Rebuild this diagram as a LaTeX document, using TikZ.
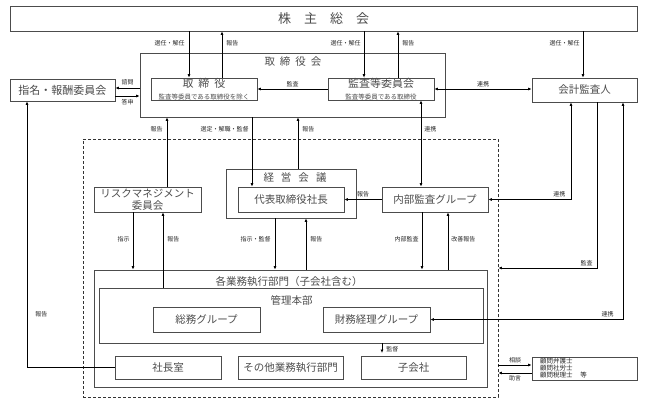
\documentclass[tikz,border=0pt]{standalone}
\usepackage{fontspec}
\newfontfamily\jp{Noto Sans CJK JP}
\usetikzlibrary{arrows.meta}

\begin{document}
\begin{tikzpicture}[x=1pt,y=-1pt,font=\jp,
  box/.style={draw=black!70,line width=0.7pt,inner sep=0pt,text=black!70,font=\jp\fontsize{10.5}{12}\selectfont,align=center},
  ttl/.style={inner sep=0pt,text=black!70,font=\jp\fontsize{10.5}{12}\selectfont},
  lbl/.style={inner sep=0pt,text=black!85,font=\jp\fontsize{6}{6.5}\selectfont},
  arr/.style={-{Latex[length=3.5pt,width=3pt]},line width=0.8pt},
  darr/.style={{Latex[length=3.5pt,width=3pt]}-{Latex[length=3.5pt,width=3pt]},line width=0.8pt}]
\useasboundingbox (0,0) rectangle (649,402);

% shareholders, board
\node[box,minimum width=627,minimum height=25,font=\jp\fontsize{13}{14}\selectfont] (sokai) at (323.5,18.5) {株　主　総　会};
\node[box,minimum width=305,minimum height=64] (torikai) at (292.5,85) {};
\node[ttl] (torikaiT) at (293,62) {取\hspace{5pt}締\hspace{5pt}役\hspace{5pt}会};
\node[box,minimum width=106,minimum height=22] (tori) at (204,89) {\fontsize{11}{11}\selectfont 取\hspace{5pt}締\hspace{5pt}役\\\fontsize{6.5}{8}\selectfont 監査等委員である取締役を除く};
\node[box,minimum width=106,minimum height=22] (kansa) at (381,89) {\fontsize{11}{11}\selectfont 監査等委員会\\\fontsize{6.5}{8}\selectfont 監査等委員である取締役};
\node[box,minimum width=105,minimum height=22,font=\jp\fontsize{11}{12}\selectfont] (shimei) at (62.5,90) {指名・報酬委員会};
\node[box,minimum width=105,minimum height=24] (kaikei) at (584.5,90) {会計監査人};

% execution side
\node[draw=black!80,densely dashed,line width=0.7pt,inner sep=0pt,minimum width=415,minimum height=258] (area) at (290.5,268) {};
\node[box,minimum width=130,minimum height=49] (keiei) at (291,193.5) {};
\node[ttl] (keieiT) at (295,178) {経\hspace{7pt}営\hspace{7pt}会\hspace{7pt}議};
\node[box,minimum width=106,minimum height=25] (daihyo) at (291,199.5) {代表取締役社長};
\node[box,minimum width=106,minimum height=25] (naibu) at (435,199.5) {内部監査グループ};
\node[box,minimum width=107,minimum height=25,font=\jp\fontsize{10.5}{11.5}\selectfont] (risk) at (147.5,199.5) {リスクマネジメント\\委員会};
\node[box,minimum width=393,minimum height=117] (gyomu) at (290.5,328.5) {};
\node[ttl] (gyomuT) at (289,282) {各業務執行部門（子会社含む）};
\node[box,minimum width=384,minimum height=55] (kanri) at (291,315.5) {};
\node[ttl] (kanriT) at (291.5,300) {管理本部};
\node[box,minimum width=107,minimum height=25] (somu) at (206.5,319.5) {総務グループ};
\node[box,minimum width=107,minimum height=25] (zaimu) at (376.5,319.5) {財務経理グループ};
\node[box,minimum width=106,minimum height=23] (shachoshitsu) at (168,367.5) {社長室};
\node[box,minimum width=105,minimum height=23] (sonota) at (290.5,367.5) {その他業務執行部門};
\node[box,minimum width=105,minimum height=23] (kogaisha) at (413.5,367.5) {子会社};
\node[box,minimum width=105,minimum height=23,text width=89,align=left,text=black!85,font=\jp\fontsize{6.5}{7}\selectfont] (komon) at (584.5,368.5) {顧問弁護士\\顧問社労士\\顧問税理士\hspace{8pt}等};

% top connectors
\draw[arr] (sokai.south -| 189,0) -- node[lbl,pos=.26,left=4pt]{選任・解任} (tori.north -| 189,0);
\draw[arr] (tori.north -| 222,0) -- node[lbl,pos=.74,right=4pt]{報告} (sokai.south -| 222,0);
\draw[arr] (sokai.south -| 364,0) -- node[lbl,pos=.26,left=3pt]{選任・解任} (kansa.north -| 364,0);
\draw[arr] (kansa.north -| 398,0) -- node[lbl,pos=.74,right=4pt]{報告} (sokai.south -| 398,0);
\draw[arr] (sokai.south -| 583,0) -- node[lbl,pos=.26,left=3pt]{選任・解任} (kaikei.north -| 583,0);
\draw[arr] (kansa.west) -- node[lbl,above=2pt]{監査} (tori.east);
\draw[arr] (torikai.west |- 0,88) -- node[lbl,above=3pt]{諮問} (shimei.east |- 0,88);
\draw[arr] (shimei.east |- 0,96) -- node[lbl,below=3pt]{答申} (torikai.west |- 0,96);
\draw[darr] (kansa.east) -- node[lbl,above=2pt]{連携} (kaikei.west |- kansa.east);

% board to execution
\draw[arr] (risk.north -| 167,0) -- node[lbl,pos=.83,left=4pt]{報告} (torikai.south -| 167,0);
\draw[arr] (torikai.south -| 252,0) -- node[lbl,pos=.17,left=3pt]{選定・解職・監督} (daihyo.north -| 252,0);
\draw[arr] (keiei.north -| 298,0) -- node[lbl,pos=.77,right=4pt]{報告} (torikai.south -| 298,0);
\draw[darr] (kansa.south -| 421,0) -- node[lbl,pos=.33,right=3pt]{連携} (naibu.north -| 421,0);
\draw[darr] (kaikei.south -| 571,0) |- node[lbl,pos=.57,above=2pt]{連携} (naibu.east);
\draw[arr] (kaikei.south -| 597,0) |- node[lbl,pos=.553,above=2pt]{監査} (area.east);
\draw[darr] (kaikei.south -| 623,0) |- node[lbl,pos=.54,above=2pt]{連携} (zaimu.east);
\draw[arr] (naibu.west) -- node[lbl,above=2pt]{報告} (daihyo.east);

% execution departments
\draw[arr] (risk.south -| 133,0) -- node[lbl,pos=.47,left=3pt]{指示} (gyomu.north -| 133,0);
\draw[arr] (kanri.north -| 163,0) -- node[lbl,pos=.64,right=4pt]{報告} (risk.south -| 163,0);
\draw[arr] (keiei.south -| 275,0) -- node[lbl,pos=.4,left=4pt]{指示・監督} (gyomu.north -| 275,0);
\draw[arr] (gyomu.north -| 306,0) -- node[lbl,pos=.6,right=4pt]{報告} (keiei.south -| 306,0);
\draw[arr] (naibu.south -| 422,0) -- node[lbl,pos=.47,left=3pt]{内部監査} (gyomu.north -| 422,0);
\draw[arr] (gyomu.north -| 448,0) -- node[lbl,pos=.53,right=3pt]{改善報告} (naibu.south -| 448,0);
\draw[arr] (shachoshitsu.west) -| node[lbl,pos=.6,right=8pt]{報告} (shimei.south -| 27,0);
\coordinate (kantoku) at (382,353);
\draw[arr] (kanri.south -| kantoku) -- node[lbl,pos=.6,right=4pt]{監督} (kantoku);

% advisers
\draw[arr] (area.east |- 0,365) -- node[lbl,above=2pt]{相談} (komon.west |- 0,365);
\draw[arr] (komon.west |- 0,373) -- node[lbl,below=2pt]{助言} (area.east |- 0,373);
\end{tikzpicture}
\end{document}
